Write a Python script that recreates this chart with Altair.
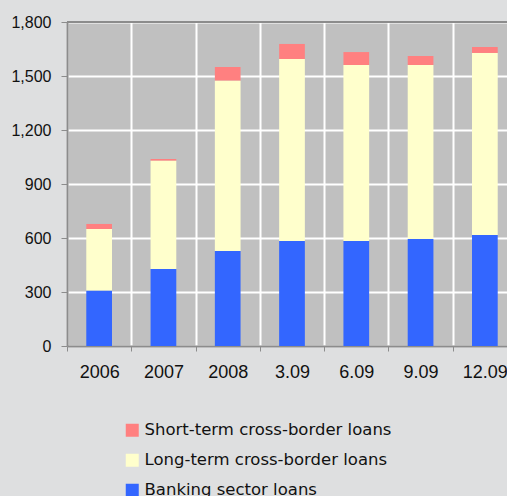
import altair as alt
import pandas as pd

# Loan stock by period (stacked): banking sector at the bottom, then long-term, then short-term
periods = ["2006", "2007", "2008", "3.09", "6.09", "9.09", "12.09"]
banking = [307, 428, 528, 583, 583, 594, 617]
long_term = [343, 601, 946, 1011, 978, 967, 1011]
short_term = [28, 10, 76, 84, 72, 50, 33]

series = [
    "Short-term cross-border loans",
    "Long-term cross-border loans",
    "Banking sector loans",
]
colors = ["#FF8080", "#FFFFCC", "#3366FF"]
y_ticks = [0, 300, 600, 900, 1200, 1500, 1800]

rows = []
for i, p in enumerate(periods):
    for name, vals, rank in zip(series, [short_term, long_term, banking], [3, 2, 1]):
        rows.append({"period": p, "series": name, "value": vals[i], "rank": rank})
df = pd.DataFrame(rows)

FONT = "Liberation Sans"
LEGEND_FONT = "DejaVu Sans"
GRAY = "#8C8C8C"
INK = "#111111"

bars = alt.Chart(df).mark_bar(width=alt.RelativeBandSize(0.4)).encode(
    x=alt.X(
        "period:N",
        sort=periods,
        scale=alt.Scale(range=[0, 450], paddingInner=0, paddingOuter=0),
        axis=alt.Axis(
            title=None,
            labelAngle=0,
            tickBand="extent",
            grid=True,
            gridColor="white",
            gridWidth=2,
            domainColor=GRAY,
            domainWidth=2,
            tickColor=GRAY,
            tickWidth=1,
            tickSize=5,
            labelPadding=12,
            labelFont=FONT,
            labelFontSize=18,
            labelColor=INK,
        ),
    ),
    y=alt.Y(
        "value:Q",
        stack="zero",
        scale=alt.Scale(domain=[0, 1800], nice=False),
        axis=alt.Axis(
            title=None,
            values=y_ticks,
            format=",d",
            grid=True,
            gridColor="white",
            gridWidth=2,
            domainColor=GRAY,
            domainWidth=2,
            tickColor=GRAY,
            tickWidth=1,
            tickSize=6,
            labelPadding=10,
            labelFont=FONT,
            labelFontSize=16,
            labelColor=INK,
        ),
    ),
    color=alt.Color(
        "series:N",
        sort=series,
        scale=alt.Scale(domain=series, range=colors),
        legend=alt.Legend(
            title=None,
            orient="none",
            legendX=57,
            legendY=400,
            direction="vertical",
            symbolType="square",
            symbolSize=169,
            symbolStrokeWidth=0,
            symbolOpacity=1,
            labelFont=LEGEND_FONT,
            labelFontSize=16.5,
            labelColor=INK,
            labelOffset=4,
            labelLimit=400,
            rowPadding=13,
            padding=0,
        ),
    ),
    order=alt.Order("rank:Q"),
)

# Gray frame line along the top of the plot area
top_line = alt.Chart(pd.DataFrame({"v": [1800]})).mark_rule(
    color=GRAY, strokeWidth=2
).encode(y=alt.Y("v:Q"))

chart = (
    alt.layer(bars, top_line)
    .properties(
        width=440,
        height=324,
        background="#DEDFE0",
        padding={"left": 67, "top": 22, "right": 0, "bottom": 150},
        autosize=alt.AutoSizeParams(type="none"),
    )
    .configure_view(fill="#C0C0C0", stroke=None)
)

chart.save("out.html", embed_options={"renderer": "svg", "actions": False})
